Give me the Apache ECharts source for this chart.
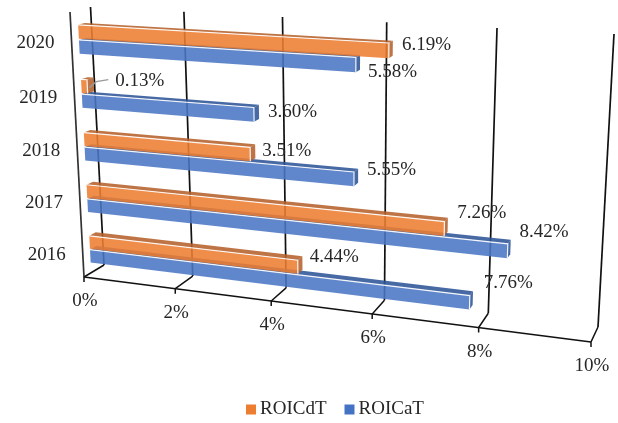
<!DOCTYPE html>
<html>
<head>
<meta charset="utf-8">
<style>html,body{margin:0;padding:0;background:#fff}#c{width:618px;height:423px}</style>
<script src="https://cdn.jsdelivr.net/npm/echarts@6/dist/echarts.min.js"></script>
</head>
<body>
<div id="c"></div>
<script>
const categories = ['2016', '2017', '2018', '2019', '2020'];
const roicDT = [4.44, 7.26, 3.51, 0.13, 6.19];
const roicAT = [7.76, 8.42, 5.55, 3.60, 5.58];
const tickValues = [0, 2, 4, 6, 8, 10];

// Layout (perspective of the 3D box, in pixels)
const backQuad = [[104, 265], [598, 327], [614, 34], [90.5, 7]];
const frontQuad = [[84, 277], [591, 342], [607, 42], [70, 12]];
const BAR_Z = [0.36, 0.68];
const BLUE_BAND = [-0.295, -0.04];
const ORANGE_BAND = [-0.02, 0.235];
const FONT = '19px "Liberation Serif","Times New Roman",serif';
const TEXT = '#262626';
const dtShift = [[12, -10], [13, -16], [12, -3], [28, -6], [13, -6]];
const atShift = [[14, -20], [12, -19], [13, -9], [14, -3], [12, 7]];

function homography(q) {
  const [x0, y0] = q[0], [x1, y1] = q[1], [x2, y2] = q[2], [x3, y3] = q[3];
  const dx1 = x1 - x2, dx2 = x3 - x2, sx = x0 - x1 + x2 - x3;
  const dy1 = y1 - y2, dy2 = y3 - y2, sy = y0 - y1 + y2 - y3;
  const det = dx1 * dy2 - dx2 * dy1;
  const g = (sx * dy2 - dx2 * sy) / det, h = (dx1 * sy - sx * dy1) / det;
  const a = x1 - x0 + g * x1, b = x3 - x0 + h * x3;
  const d = y1 - y0 + g * y1, e = y3 - y0 + h * y3;
  return (u, v) => {
    const w = g * u + h * v + 1;
    return [(a * u + b * v + x0) / w, (d * u + e * v + y0) / w];
  };
}
const front = homography(frontQuad), back = homography(backQuad);
function project(u, h, z) {
  const f = front(u, h), b = back(u, h);
  return [f[0] + (b[0] - f[0]) * z, f[1] + (b[1] - f[1]) * z];
}
// Convert library scale pixels of the full-canvas hidden grid to box units
function unit(api, value, catIdx, bandFrac) {
  const p = api.coord([value, catIdx]);
  const bandH = api.size([0, 1])[1];
  return [p[0] / api.getWidth(), 1 - (p[1] - bandFrac * bandH) / api.getHeight()];
}

function barRenderer(frontColor, topColor, sideColor, band) {
  return function (params, api) {
    const val = api.value(0), i = api.value(1);
    const u0 = unit(api, 0, i, 0)[0], u1 = unit(api, val, i, 0)[0];
    const h0 = unit(api, 0, i, band[0])[1], h1 = unit(api, 0, i, band[1])[1];
    const [z0, z1] = BAR_Z;
    const fbl = project(u0, h0, z0), fbr = project(u1, h0, z0),
          ftr = project(u1, h1, z0), ftl = project(u0, h1, z0),
          btl = project(u0, h1, z1), btr = project(u1, h1, z1), bbr = project(u1, h0, z1);
    const poly = (pts, fill) => ({ type: 'polygon', shape: { points: pts }, style: { fill: fill, opacity: 0.88 } });
    return {
      type: 'group',
      children: [
        poly([ftl, ftr, btr, btl], topColor),
        poly([fbr, bbr, btr, ftr], sideColor),
        poly([fbl, fbr, ftr, ftl], frontColor),
        { type: 'polyline', shape: { points: [ftl, ftr, fbr] }, style: { stroke: '#fff', lineWidth: 1.2, fill: 'none', opacity: 0.9 } }
      ]
    };
  };
}

function labelRenderer(band, shifts, leader) {
  return function (params, api) {
    const val = api.value(0), i = api.value(1);
    const u = unit(api, val, i, 0)[0];
    const hMid = unit(api, 0, i, (band[0] + band[1]) / 2)[1];
    const end = project(u, hMid, BAR_Z[0]);
    const s = shifts[params.dataIndex];
    const tx = end[0] + s[0], ty = end[1] + s[1];
    const children = [{
      type: 'text',
      style: { text: val.toFixed(2) + '%', x: tx, y: ty, font: FONT, fill: TEXT, textAlign: 'left', textVerticalAlign: 'middle' }
    }];
    if (leader && val < 0.5) {
      children.push({
        type: 'polyline',
        shape: { points: [[end[0] + 2, end[1] + 1], [end[0] + 9, end[1] - 5], [tx - 7, ty - 1]] },
        style: { stroke: '#9a9a9a', lineWidth: 1.5, fill: 'none' }
      });
    }
    return { type: 'group', children: children };
  };
}

function boxRenderer(params, api) {
  const v = api.value(0);
  const u = unit(api, v, 0, 0)[0];
  const a = project(u, 0, 0), b = project(u, 0, 1), c = project(u, 1, 1);
  const line = (pts, w, col) => ({ type: 'polyline', shape: { points: pts }, style: { stroke: col || '#111', lineWidth: w, fill: 'none' } });
  const ch = [
    line([[a[0], a[1] + 5], a, b], 1.5),
    line([b, c], 1.7),
    { type: 'text', style: { text: v + '%', x: a[0] + 1, y: a[1] + 24, font: FONT, fill: TEXT, textAlign: 'center', textVerticalAlign: 'middle' } }
  ];
  if (v === 0) {
    ch.push(line([a, project(0, 1, 0)], 1.7, '#333'));
    ch.push(line([a, project(1, 0, 0)], 1.6, '#111'));
  }
  return { type: 'group', children: ch };
}

function catRenderer(params, api) {
  const i = api.value(1);
  const h = unit(api, 0, i, 0)[1];
  const p = project(0, h, 0);
  return { type: 'text', style: { text: categories[i], x: p[0] - 17, y: p[1] + 3, font: FONT, fill: TEXT, textAlign: 'right', textVerticalAlign: 'middle' } };
}

const toPairs = arr => arr.map((v, i) => [v, i]);
const chart = echarts.init(document.getElementById('c'), null, { renderer: 'canvas' });
chart.setOption({
  animation: false,
  backgroundColor: '#fff',
  grid: { left: 0, right: 0, top: 0, bottom: 0 },
  xAxis: { type: 'value', min: 0, max: 10, interval: 2, show: false },
  yAxis: { type: 'category', data: categories, show: false },
  legend: {
    data: ['ROICdT', 'ROICaT'], left: 246, top: 400, padding: 0, itemWidth: 10, itemHeight: 10, itemGap: 18,
    icon: 'rect', textStyle: { fontFamily: '"Liberation Serif","Times New Roman",serif', fontSize: 19, color: TEXT, padding: [0, 0, 0, -1] }
  },
  series: [
    { type: 'custom', name: 'box', z: 1, silent: true, data: tickValues.map(v => [v, 0]), renderItem: boxRenderer, encode: { x: 0, y: 1 } },
    { type: 'custom', name: 'cats', z: 1, silent: true, data: categories.map((c, i) => [0, i]), renderItem: catRenderer, encode: { x: 0, y: 1 } },
    { type: 'custom', name: 'ROICaT', z: 2, itemStyle: { color: '#4472C4' }, data: toPairs(roicAT), renderItem: barRenderer('#4A75C4', '#2F5597', '#2F5597', BLUE_BAND), encode: { x: 0, y: 1 } },
    { type: 'custom', name: 'ROICdT', z: 3, itemStyle: { color: '#ED7D31' }, data: toPairs(roicDT), renderItem: barRenderer('#ED7D31', '#B5612A', '#B5612A', ORANGE_BAND), encode: { x: 0, y: 1 } },
    { type: 'custom', name: 'atLabels', z: 4, silent: true, data: toPairs(roicAT), renderItem: labelRenderer(BLUE_BAND, atShift, false), encode: { x: 0, y: 1 } },
    { type: 'custom', name: 'dtLabels', z: 4, silent: true, data: toPairs(roicDT), renderItem: labelRenderer(ORANGE_BAND, dtShift, true), encode: { x: 0, y: 1 } }
  ]
});
</script>
</body>
</html>
